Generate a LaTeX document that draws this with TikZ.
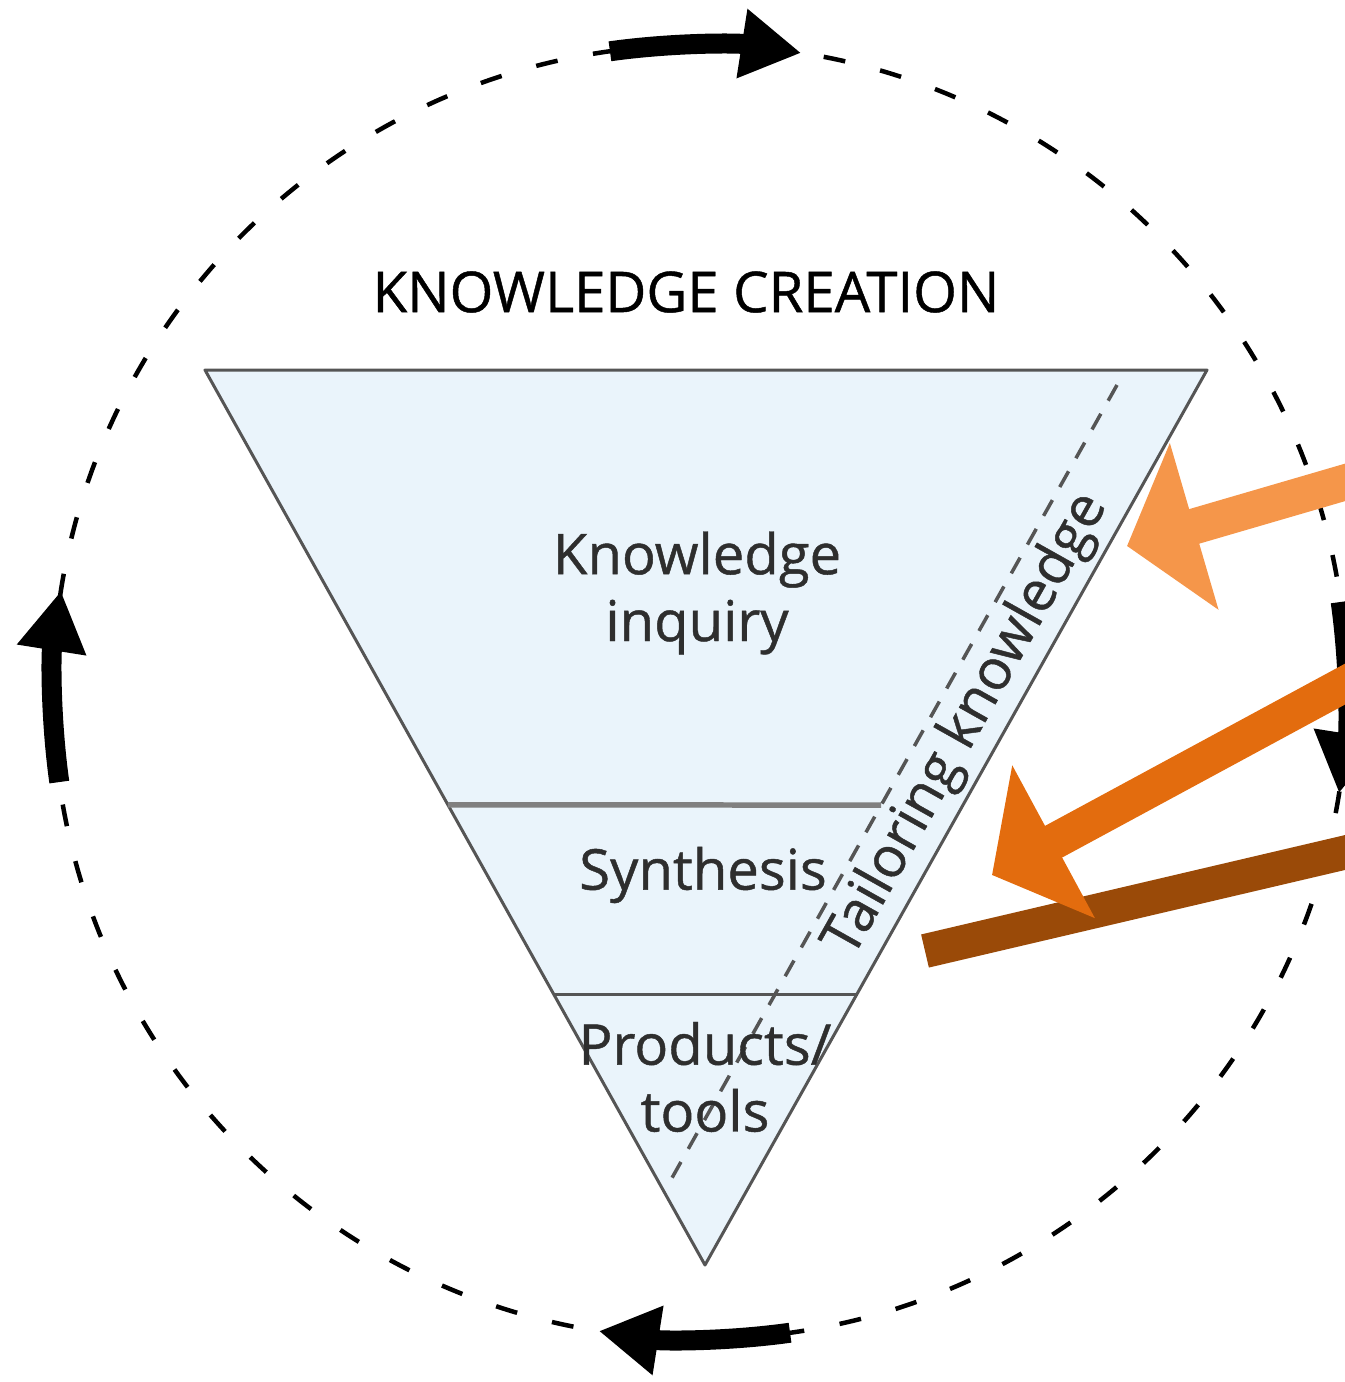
\documentclass[tikz,border=0pt]{standalone}
\usepackage{fontspec}
\setmainfont{Open Sans}
\newfontfamily\labelfont{Open Sans}[FakeBold=0.8]
\usepackage{xcolor}
\usepackage{tikz}
\usetikzlibrary{arrows.meta,calc}
\definecolor{paleblue}{HTML}{EAF4FB}
\definecolor{edgegray}{HTML}{555555}
\definecolor{ink}{HTML}{2E2E2E}
\definecolor{lightorange}{HTML}{F5964A}
\definecolor{darkorange}{HTML}{E36C0E}
\definecolor{rust}{HTML}{9A4A08}

\begin{document}
\begin{tikzpicture}[
    lbl/.style={text=ink, font=\labelfont\fontsize{16}{19}\selectfont, align=center, inner sep=0pt},
    cyclearrow/.style={line width=0.2cm, -{Triangle[width=0.66cm,length=0.6cm]}},
    pointer/.style={line width=0.36cm, -{Triangle[width=1.7cm,length=0.7cm]}}
  ]
\useasboundingbox (0,0) rectangle (13.45,-13.82);
\coordinate (c) at (7.00,-6.92);
\draw[dash pattern=on 0.22cm off 0.36cm, line width=0.045cm] (c) circle (6.47);
\draw[cyclearrow] (c) ++(98:6.47) arc (98:81:6.47);
\draw[cyclearrow] (c) ++(8:6.47) arc (8:-9:6.47);
\draw[cyclearrow] (c) ++(-82:6.47) arc (-82:-99:6.47);
\draw[cyclearrow] (c) ++(188:6.47) arc (188:171:6.47);

\coordinate (tl) at (2.05,-3.70);
\coordinate (tr) at (12.07,-3.70);
\coordinate (bot) at (7.05,-12.65);
\draw[fill=paleblue, draw=edgegray, line width=0.03cm, line join=round] (tl) -- (tr) -- (bot) -- cycle;
\draw[gray, line width=0.055cm] ($(tl)!0.486!(bot)$) coordinate (s1) -- (8.81,-8.05) coordinate (s2);
\draw[edgegray, line width=0.03cm] ($(tl)!0.698!(bot)$) coordinate (p1) -- ($(tr)!0.698!(bot)$) coordinate (p2);
\draw[edgegray, line width=0.035cm, dash pattern=on 0.18cm off 0.15cm] (11.17,-3.85) coordinate (d1) -- (6.68,-11.85) coordinate (d2);

\node[lbl, text=black] (title) at (6.86,-2.92) {KNOWLEDGE CREATION};
\node[lbl] (inquiry) at (6.97,-5.93) {Knowledge\\inquiry};
\node[lbl] (synth) at (7.03,-8.75) {Synthesis};
\node[lbl] (products) at (7.05,-10.77) {Products/\\tools};
\node[lbl, rotate=60.7] (tailor) at (9.67,-7.25) {Tailoring knowledge};

\coordinate (r1) at (13.60,-4.78);
\coordinate (t1) at (11.27,-5.46);
\coordinate (r2) at (13.60,-6.76);
\coordinate (t2) at (9.92,-8.75);
\coordinate (r3) at (13.60,-8.49);
\coordinate (t3) at (9.25,-9.51);
\draw[rust, line width=0.34cm] (r3) -- (t3);
\draw[pointer, lightorange] (r1) -- (t1);
\draw[pointer, darkorange] (r2) -- (t2);
\end{tikzpicture}
\end{document}
